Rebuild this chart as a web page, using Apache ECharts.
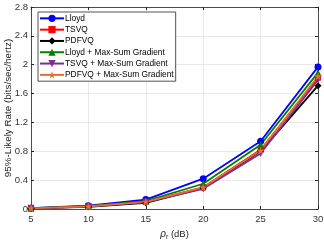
<!DOCTYPE html>
<html><head><meta charset="utf-8">
<script src="https://cdn.jsdelivr.net/npm/echarts@6/dist/echarts.min.js"></script>
<style>html,body{margin:0;padding:0;background:#fff}#c{width:324px;height:243px}</style>
</head><body><div id="c"></div>
<script>
const snr = [5, 10, 15, 20, 25, 30];
const lloyd = [0.012, 0.045, 0.13, 0.42, 0.94, 1.97];
const tsvq = [0.010, 0.035, 0.10, 0.30, 0.82, 1.82];
const pdfvq = [0.008, 0.030, 0.085, 0.29, 0.80, 1.71];
const lloydMsg = [0.011, 0.040, 0.11, 0.35, 0.89, 1.89];
const tsvqMsg = [0.009, 0.032, 0.095, 0.28, 0.77, 1.79];
const pdfvqMsg = [0.010, 0.035, 0.10, 0.30, 0.81, 1.84];
const yTicks = [0, 0.4, 0.8, 1.2, 1.6, 2, 2.4, 2.8];
const names = ['Lloyd', 'TSVQ', 'PDFVQ', 'Lloyd + Max-Sum Gradient', 'TSVQ + Max-Sum Gradient', 'PDFVQ + Max-Sum Gradient'];

const star = 'path://M50,0 L61.8,35.5 L100,35.5 L69.1,57.5 L80.9,93.5 L50,71.5 L19.1,93.5 L30.9,57.5 L0,35.5 L38.2,35.5 Z';
const font = 'Liberation Sans, Arial, Helvetica, sans-serif';
const axisCol = '#262626';
const tickCol = '#333333';

function mk(name, data, color, symbol, size, rot) {
  return {
    name: name, type: 'line', data: snr.map((x, i) => [x, data[i]]),
    symbol: symbol, symbolSize: size, symbolRotate: rot || 0,
    lineStyle: { color: color, width: 1.8 }, itemStyle: { color: color },
    showAllSymbol: true, animation: false, z: 3
  };
}

const chart = echarts.init(document.getElementById('c'), null, { renderer: 'canvas' });
chart.setOption({
  animation: false,
  textStyle: { fontFamily: font },
  grid: { left: 31, right: 6, top: 7, bottom: 34, show: false, containLabel: false, outerBoundsMode: 'none' },
  legend: {
    orient: 'vertical', left: 38, top: 12,
    padding: [1, 2, 1, 1], itemGap: 0.6,
    itemWidth: 24, itemHeight: 9,
    borderColor: axisCol, borderWidth: 0.8, backgroundColor: '#fff',
    textStyle: { fontSize: 8.4, color: '#000', fontFamily: font, padding: [0, 0, 0, -4], lineHeight: 10.7 },
    data: names
  },
  xAxis: [{
    type: 'value', min: 5, max: 30, interval: 5,
    name: '{a|ρ}{b|r} (dB)', nameLocation: 'middle', nameGap: 19, nameMoveOverlap: false,
    nameTextStyle: { fontSize: 9.5, color: axisCol, rich: { a: { fontSize: 10, fontStyle: 'italic', color: axisCol }, b: { fontSize: 7, color: axisCol, verticalAlign: 'bottom', padding: [6, 0, 0, 0] } } },
    axisLine: { show: true, lineStyle: { color: axisCol, width: 0.8 } },
    axisTick: { show: true, inside: true, length: 3, lineStyle: { color: axisCol } },
    axisLabel: { fontSize: 9.5, color: tickCol, margin: 5 },
    splitLine: { show: true, lineStyle: { color: '#e3e3e3', width: 0.8 } }
  }, {
    type: 'value', position: 'top', min: 5, max: 30, interval: 5,
    axisLine: { show: true, onZero: false, lineStyle: { color: axisCol, width: 0.8 } },
    axisTick: { show: true, inside: true, length: 3, lineStyle: { color: axisCol } },
    axisLabel: { show: false }, splitLine: { show: false }
  }],
  yAxis: [{
    type: 'value', min: 0, max: 2.8, interval: 0.4,
    name: '95%-Likely Rate (bits/sec/hertz)', nameLocation: 'middle', nameGap: 18, nameMoveOverlap: false,
    nameTextStyle: { fontSize: 9.8, color: axisCol },
    axisLine: { show: true, lineStyle: { color: axisCol, width: 0.8 } },
    axisTick: { show: true, inside: true, length: 3, lineStyle: { color: axisCol } },
    axisLabel: { fontSize: 9.5, color: tickCol, margin: 3, formatter: v => String(+v.toFixed(1)) },
    splitLine: { show: true, lineStyle: { color: '#e3e3e3', width: 0.8 } }
  }, {
    type: 'value', position: 'right', min: 0, max: 2.8, interval: 0.4,
    axisLine: { show: true, onZero: false, lineStyle: { color: axisCol, width: 0.8 } },
    axisTick: { show: true, inside: true, length: 3, lineStyle: { color: axisCol } },
    axisLabel: { show: false }, splitLine: { show: false }
  }],
  series: [
    mk(names[0], lloyd, '#0000ff', 'circle', 7),
    mk(names[1], tsvq, '#ff0000', 'rect', 6),
    mk(names[2], pdfvq, '#000000', 'diamond', 7),
    mk(names[3], lloydMsg, '#008000', 'triangle', 7),
    mk(names[4], tsvqMsg, '#7e2f8e', 'triangle', 7, 180),
    mk(names[5], pdfvqMsg, '#ec6a2c', star, 8)
  ]
});
</script></body></html>
